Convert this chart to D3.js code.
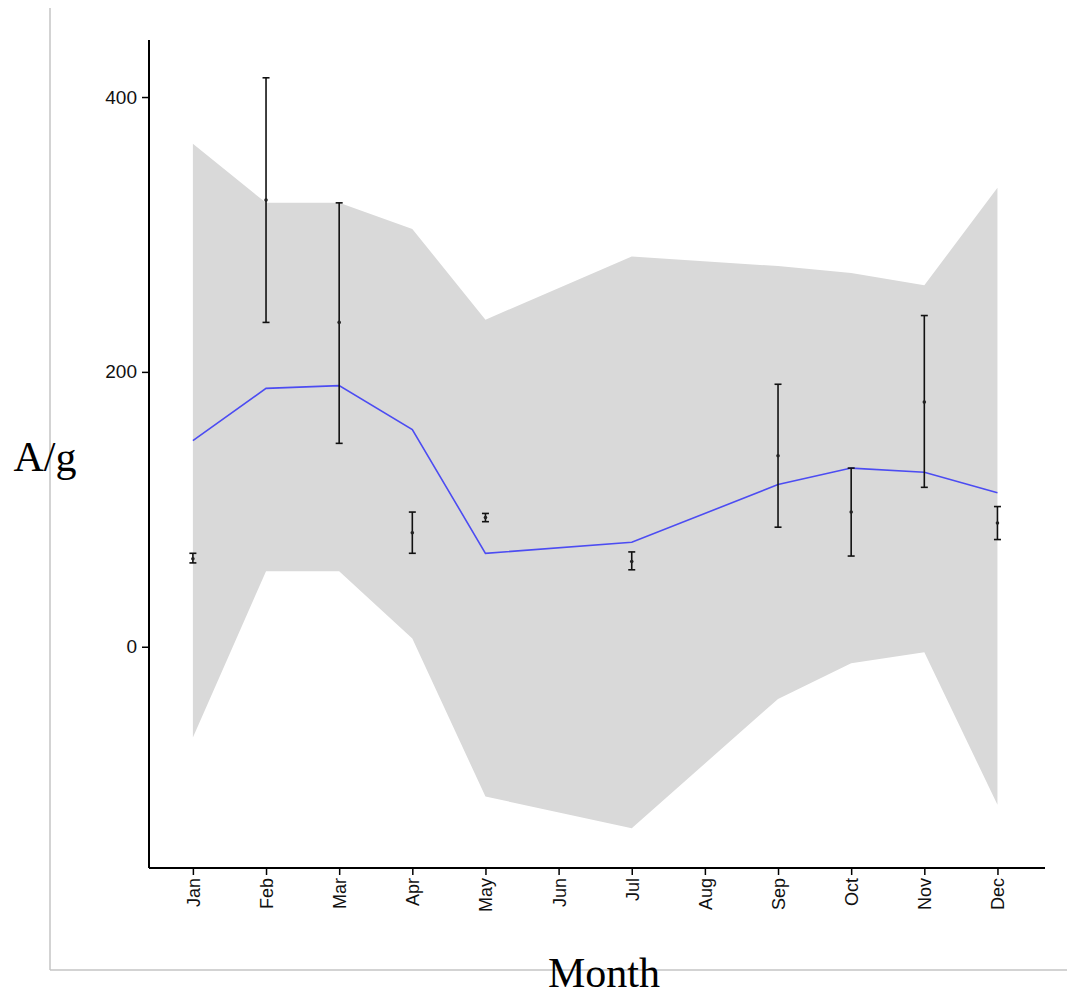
<!DOCTYPE html>
<html>
<head>
<meta charset="utf-8">
<script src="https://cdn.jsdelivr.net/npm/d3@7"></script>
<style>
  html, body { margin: 0; padding: 0; background: #ffffff; }
  svg { display: block; }
</style>
</head>
<body>
<script>
// Month axis labels
const months = ["Jan","Feb","Mar","Apr","May","Jun","Jul","Aug","Sep","Oct","Nov","Dec"];
const yTicks = [0, 200, 400];

// Fitted curve and its confidence band (months with observations)
const fitMonths  = ["Jan","Feb","Mar","Apr","May","Jul","Sep","Oct","Nov","Dec"];
const fitValues  = [150, 188, 190, 158, 68, 76, 118, 130, 127, 112];
const bandUpper  = [366, 323, 323, 304, 238, 284, 277, 272, 263, 334];
const bandLower  = [-66, 55, 55, 6, -109, -132, -38, -12, -4, -115];

// Monthly observed means with error bars
const obsMonths = ["Jan","Feb","Mar","Apr","May","Jul","Sep","Oct","Nov","Dec"];
const obsMean   = [64, 325, 236, 83, 94, 62, 139, 98, 178, 90];
const obsLow    = [61, 236, 148, 68, 91, 56, 87, 66, 116, 78];
const obsHigh   = [68, 414, 323, 98, 97, 69, 191, 130, 241, 102];

const W = 1067, H = 997;
const svg = d3.select("body").append("svg").attr("width", W).attr("height", H);

const plotLeft = 149, plotRight = 1045, plotTop = 40, plotBottom = 868;

const monthIndex = m => months.indexOf(m);
const x = d3.scaleLinear().domain([-0.6, 11.65]).range([plotLeft, plotRight]);
const y = d3.scaleLinear().domain([-161, 441.5]).range([plotBottom, plotTop]);

// outer panel frame
svg.append("line").attr("x1", 50).attr("x2", 50).attr("y1", 8).attr("y2", 970)
  .attr("stroke", "#c4c4c4").attr("stroke-width", 1.5);
svg.append("line").attr("x1", 50).attr("x2", W).attr("y1", 970).attr("y2", 970)
  .attr("stroke", "#c4c4c4").attr("stroke-width", 1.5);

// confidence band
const band = fitMonths.map((m, i) => ({ m, lo: bandLower[i], hi: bandUpper[i] }));
svg.append("path")
  .datum(band)
  .attr("fill", "#d9d9d9")
  .attr("d", d3.area()
    .x(d => x(monthIndex(d.m)))
    .y0(d => y(d.lo))
    .y1(d => y(d.hi)));

// fitted line
const fit = fitMonths.map((m, i) => ({ m, v: fitValues[i] }));
svg.append("path")
  .datum(fit)
  .attr("fill", "none")
  .attr("stroke", "#4c4cf2")
  .attr("stroke-width", 1.6)
  .attr("d", d3.line().x(d => x(monthIndex(d.m))).y(d => y(d.v)));

// error bars
const obs = obsMonths.map((m, i) => ({ m, mean: obsMean[i], lo: obsLow[i], hi: obsHigh[i] }));
const eb = svg.append("g").attr("stroke", "#111").attr("stroke-width", 1.6);
obs.forEach(d => {
  const cx = x(monthIndex(d.m));
  eb.append("line").attr("x1", cx).attr("x2", cx).attr("y1", y(d.lo)).attr("y2", y(d.hi));
  eb.append("line").attr("x1", cx - 3.5).attr("x2", cx + 3.5).attr("y1", y(d.lo)).attr("y2", y(d.lo));
  eb.append("line").attr("x1", cx - 3.5).attr("x2", cx + 3.5).attr("y1", y(d.hi)).attr("y2", y(d.hi));
});
svg.append("g").selectAll("circle").data(obs).join("circle")
  .attr("cx", d => x(monthIndex(d.m)))
  .attr("cy", d => y(d.mean))
  .attr("r", 1.8)
  .attr("fill", "#222");

// y axis
const yAxis = svg.append("g").attr("transform", `translate(${plotLeft},0)`)
  .call(d3.axisLeft(y).tickValues(yTicks).tickSize(7).tickSizeOuter(0).tickPadding(5));
yAxis.select(".domain").attr("stroke", "#000").attr("stroke-width", 2)
  .attr("d", `M0,${plotTop}V${plotBottom}`);
yAxis.selectAll(".tick line").attr("stroke", "#000").attr("stroke-width", 1.5);
yAxis.selectAll(".tick text")
  .attr("font-family", "Liberation Sans, Arial, sans-serif")
  .attr("font-size", 19).attr("fill", "#111");

// x axis
const xAxis = svg.append("g").attr("transform", `translate(0,${plotBottom})`)
  .call(d3.axisBottom(x).tickValues(d3.range(12)).tickFormat(i => months[i])
    .tickSize(7).tickSizeOuter(0));
xAxis.select(".domain").attr("stroke", "#000").attr("stroke-width", 2)
  .attr("d", `M${plotLeft},0H${plotRight}`);
xAxis.selectAll(".tick line").attr("stroke", "#000").attr("stroke-width", 1.5);
xAxis.selectAll(".tick text")
  .attr("font-family", "Liberation Sans, Arial, sans-serif")
  .attr("font-size", 18).attr("fill", "#111")
  .attr("text-anchor", "end")
  .attr("transform", "rotate(-90)")
  .attr("x", -10).attr("y", 0).attr("dy", "0.36em");

// axis titles
svg.append("text")
  .attr("x", 45).attr("y", 471)
  .attr("text-anchor", "middle")
  .attr("font-family", "Liberation Serif, Times New Roman, serif")
  .attr("font-size", 42).attr("fill", "#000")
  .text("A/g");
svg.append("text")
  .attr("x", 604).attr("y", 987)
  .attr("text-anchor", "middle")
  .attr("font-family", "Liberation Serif, Times New Roman, serif")
  .attr("font-size", 42).attr("fill", "#000")
  .text("Month");
</script>
</body>
</html>
